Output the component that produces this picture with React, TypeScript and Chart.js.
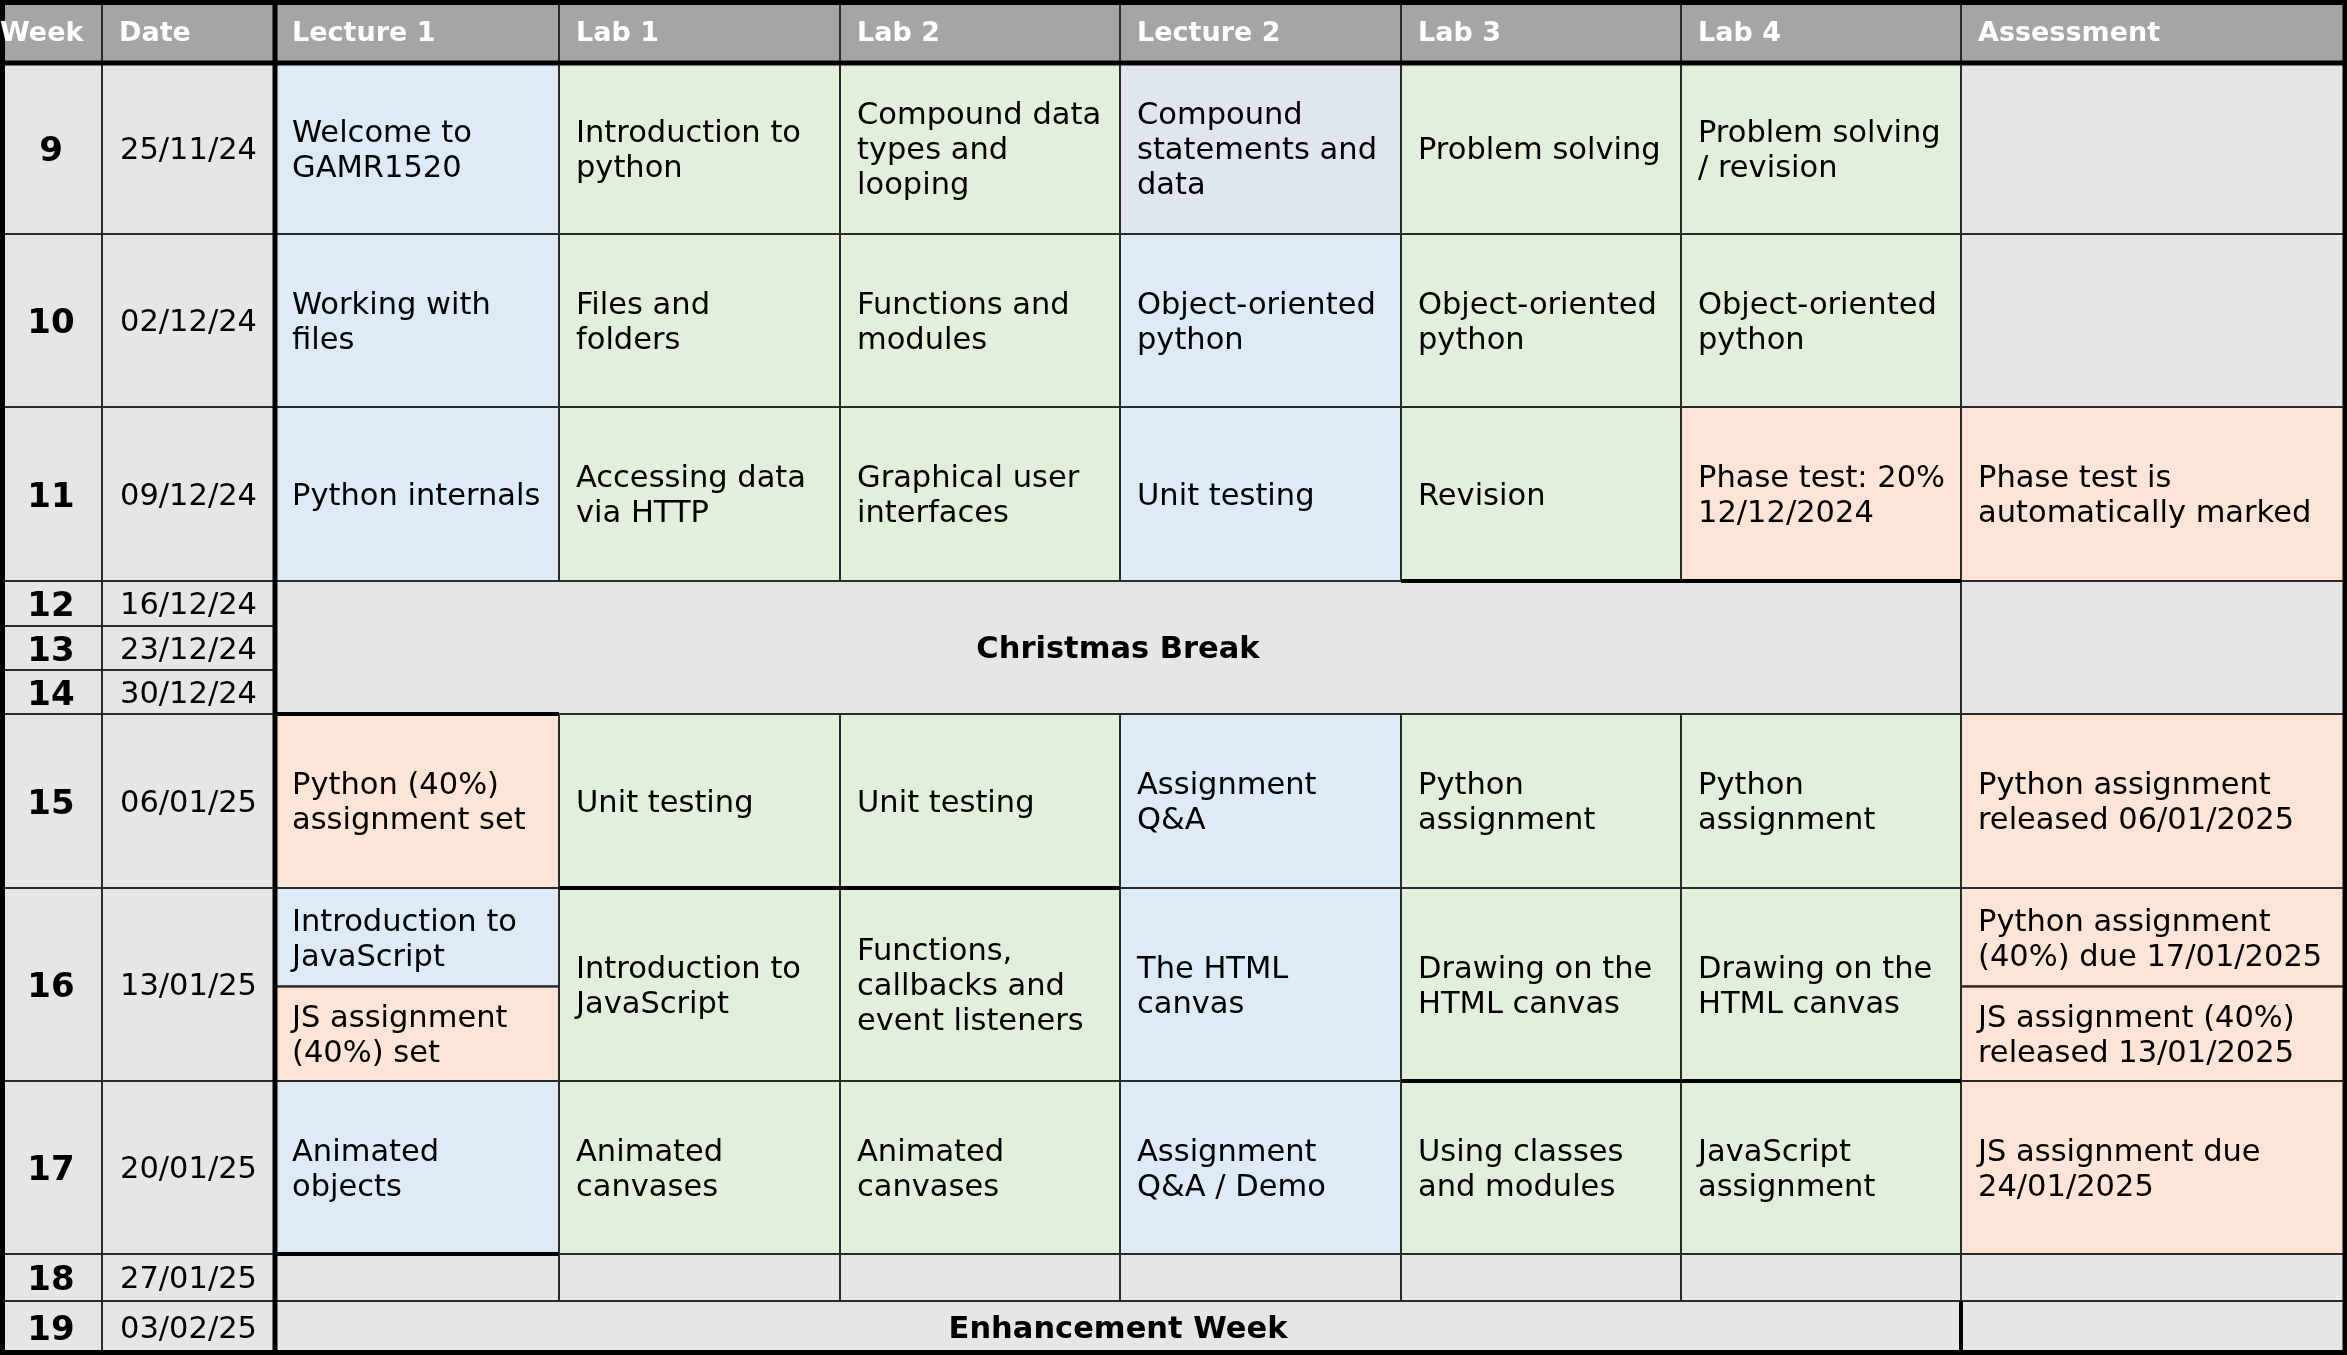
import React, { useEffect, useRef } from "react";
import { Chart, registerables } from "chart.js";

Chart.register(...registerables);

// ---------------- DATA ----------------
const HEADERS = ["Week", "Date", "Lecture 1", "Lab 1", "Lab 2", "Lecture 2", "Lab 3", "Lab 4", "Assessment"];
const WEEKS = ["9", "10", "11", "12", "13", "14", "15", "16", "17", "18", "19"];
const DATES = ["25/11/24", "02/12/24", "09/12/24", "16/12/24", "23/12/24", "30/12/24", "06/01/25", "13/01/25", "20/01/25", "27/01/25", "03/02/25"];

// rows (indices into WEEKS) that hold teaching sessions
const TEACHING_ROWS = [0, 1, 2, 6, 7, 8];

type Entry = string | string[];
const LECTURE_1: Entry[] = ["Welcome to\nGAMR1520", "Working with\nfiles", "Python internals", "Python (40%)\nassignment set", ["Introduction to\nJavaScript", "JS assignment\n(40%) set"], "Animated\nobjects"];
const LECTURE_1_TYPE: Entry[] = ["lecture", "lecture", "lecture", "assessment", ["lecture", "assessment"], "lecture"];
const LAB_1: Entry[] = ["Introduction to\npython", "Files and\nfolders", "Accessing data\nvia HTTP", "Unit testing", "Introduction to\nJavaScript", "Animated\ncanvases"];
const LAB_1_TYPE: Entry[] = ["lab", "lab", "lab", "lab", "lab", "lab"];
const LAB_2: Entry[] = ["Compound data\ntypes and\nlooping", "Functions and\nmodules", "Graphical user\ninterfaces", "Unit testing", "Functions,\ncallbacks and\nevent listeners", "Animated\ncanvases"];
const LAB_2_TYPE: Entry[] = ["lab", "lab", "lab", "lab", "lab", "lab"];
const LECTURE_2: Entry[] = ["Compound\nstatements and\ndata", "Object-oriented\npython", "Unit testing", "Assignment\nQ&A", "The HTML\ncanvas", "Assignment\nQ&A / Demo"];
const LECTURE_2_TYPE: Entry[] = ["lectureAlt", "lecture", "lecture", "lecture", "lecture", "lecture"];
const LAB_3: Entry[] = ["Problem solving", "Object-oriented\npython", "Revision", "Python\nassignment", "Drawing on the\nHTML canvas", "Using classes\nand modules"];
const LAB_3_TYPE: Entry[] = ["lab", "lab", "lab", "lab", "lab", "lab"];
const LAB_4: Entry[] = ["Problem solving\n/ revision", "Object-oriented\npython", "Phase test: 20%\n12/12/2024", "Python\nassignment", "Drawing on the\nHTML canvas", "JavaScript\nassignment"];
const LAB_4_TYPE: Entry[] = ["lab", "lab", "assessment", "lab", "lab", "lab"];
const ASSESSMENT: Entry[] = ["", "", "Phase test is\nautomatically marked", "Python assignment\nreleased 06/01/2025", ["Python assignment\n(40%) due 17/01/2025", "JS assignment (40%)\nreleased 13/01/2025"], "JS assignment due\n24/01/2025"];
const ASSESSMENT_TYPE: Entry[] = ["empty", "empty", "assessment", "assessment", ["assessment", "assessment"], "assessment"];

const SESSION_COLUMNS = [LECTURE_1, LAB_1, LAB_2, LECTURE_2, LAB_3, LAB_4, ASSESSMENT];
const SESSION_TYPES = [LECTURE_1_TYPE, LAB_1_TYPE, LAB_2_TYPE, LECTURE_2_TYPE, LAB_3_TYPE, LAB_4_TYPE, ASSESSMENT_TYPE];

// non-teaching blocks: label, first row, last row
const BREAK_LABELS = ["Christmas Break", "Enhancement Week"];
const BREAK_FIRST = [3, 10];
const BREAK_LAST = [5, 10];
// empty week (all cells blank)
const EMPTY_ROWS = [9];

// ---------------- LAYOUT ----------------
const W = 2347;
const H = 1355;
const COL_EDGES = [0, 102, 275, 559, 840, 1120, 1401, 1681, 1961, 2345];
const ROW_EDGES = [0, 63, 234, 407, 581, 626, 670, 714, 888, 1081, 1254, 1301, 1353];
const SPLIT_FRACTION = 0.51;

const FILL: Record<string, string> = {
  lecture: "#ddebf7",
  lectureAlt: "#dfe6f0",
  lab: "#e2efda",
  assessment: "#fce4d6",
  empty: "#e6e6e6",
  header: "#a5a5a5",
};
const FONT = '"DejaVu Sans", sans-serif';
const THIN = "#2a2a2a";

// thick segments: horizontal [edgeRow, col0, col1, width], vertical [edgeCol, row0, row1, width]
const THICK_H: number[][] = [
  [0, 0, 9, 5], [1, 0, 9, 5], [12, 0, 9, 5],
  [4, 6, 8, 4], [7, 2, 3, 4], [8, 3, 5, 4], [9, 6, 8, 4], [10, 2, 3, 4],
];
const THICK_V: number[][] = [
  [0, 0, 12, 5], [9, 0, 12, 5], [2, 0, 12, 5], [8, 11, 12, 4],
];

type Cell = { c0: number; c1: number; y0: number; y1: number; text: string; kind: string; bold?: boolean; center?: boolean; big?: boolean };

function buildCells(): Cell[] {
  const cells: Cell[] = [];
  WEEKS.forEach((w, i) => {
    cells.push({ c0: 0, c1: 1, y0: ROW_EDGES[i + 1], y1: ROW_EDGES[i + 2], text: w, kind: "empty", bold: true, center: true, big: true });
    cells.push({ c0: 1, c1: 2, y0: ROW_EDGES[i + 1], y1: ROW_EDGES[i + 2], text: DATES[i], kind: "empty", center: true });
  });
  SESSION_COLUMNS.forEach((col, ci) => {
    col.forEach((entry, k) => {
      const r = TEACHING_ROWS[k];
      const y0 = ROW_EDGES[r + 1];
      const y1 = ROW_EDGES[r + 2];
      const kind = SESSION_TYPES[ci][k];
      if (Array.isArray(entry)) {
        const ym = y0 + (y1 - y0) * SPLIT_FRACTION;
        const kinds = kind as string[];
        cells.push({ c0: ci + 2, c1: ci + 3, y0, y1: ym, text: entry[0], kind: kinds[0] });
        cells.push({ c0: ci + 2, c1: ci + 3, y0: ym, y1, text: entry[1], kind: kinds[1] });
      } else {
        cells.push({ c0: ci + 2, c1: ci + 3, y0, y1, text: entry, kind: kind as string });
      }
    });
  });
  BREAK_LABELS.forEach((label, b) => {
    const y0 = ROW_EDGES[BREAK_FIRST[b] + 1];
    const y1 = ROW_EDGES[BREAK_LAST[b] + 2];
    cells.push({ c0: 2, c1: 8, y0, y1, text: label, kind: "empty", bold: true, center: true });
    cells.push({ c0: 8, c1: 9, y0, y1, text: "", kind: "empty" });
  });
  EMPTY_ROWS.forEach((r) => {
    for (let c = 2; c < 9; c++) {
      cells.push({ c0: c, c1: c + 1, y0: ROW_EDGES[r + 1], y1: ROW_EDGES[r + 2], text: "", kind: "empty" });
    }
  });
  return cells;
}

const tablePlugin = {
  id: "timetable",
  afterDraw(chart: any) {
    const ctx: CanvasRenderingContext2D = chart.ctx;
    const xs = chart.scales.x;
    const ys = chart.scales.y;
    const px = (v: number) => xs.getPixelForValue(v);
    const py = (v: number) => ys.getPixelForValue(v);
    const cells = buildCells();

    ctx.save();
    ctx.fillStyle = FILL.header;
    ctx.fillRect(px(COL_EDGES[0]), py(ROW_EDGES[0]), px(COL_EDGES[9]) - px(COL_EDGES[0]), py(ROW_EDGES[1]) - py(ROW_EDGES[0]));
    cells.forEach((c) => {
      const x0 = px(COL_EDGES[c.c0]);
      const x1 = px(COL_EDGES[c.c1]);
      const y0 = py(c.y0);
      const y1 = py(c.y1);
      ctx.fillStyle = FILL[c.kind];
      ctx.fillRect(x0, y0, x1 - x0, y1 - y0);
    });
    ctx.strokeStyle = THIN;
    ctx.lineWidth = 2;
    for (let c = 1; c < 9; c++) {
      ctx.beginPath();
      ctx.moveTo(px(COL_EDGES[c]), py(ROW_EDGES[0]));
      ctx.lineTo(px(COL_EDGES[c]), py(ROW_EDGES[1]));
      ctx.stroke();
    }
    cells.forEach((c) => {
      const x0 = px(COL_EDGES[c.c0]);
      const x1 = px(COL_EDGES[c.c1]);
      const y0 = py(c.y0);
      const y1 = py(c.y1);
      ctx.strokeRect(x0, y0, x1 - x0, y1 - y0);
    });
    ctx.strokeStyle = "#000";
    THICK_H.forEach(([r, c0, c1, w]) => {
      ctx.lineWidth = w;
      let y = py(ROW_EDGES[r]);
      if (r === 0) y += w / 2;
      if (r === ROW_EDGES.length - 1) y = Math.min(y, H - w / 2);
      ctx.beginPath();
      ctx.moveTo(px(COL_EDGES[c0]), y);
      ctx.lineTo(px(COL_EDGES[c1]) + (c1 === 9 ? 2 : 0), y);
      ctx.stroke();
    });
    THICK_V.forEach(([c, r0, r1, w]) => {
      ctx.lineWidth = w;
      let x = px(COL_EDGES[c]);
      if (c === 0) x += w / 2;
      ctx.beginPath();
      ctx.moveTo(x, py(ROW_EDGES[r0]));
      ctx.lineTo(x, py(ROW_EDGES[r1]) + 2);
      ctx.stroke();
    });

    ctx.fillStyle = "#ffffff";
    ctx.font = `bold 27px ${FONT}`;
    ctx.textBaseline = "middle";
    ctx.textAlign = "left";
    const hy = (py(ROW_EDGES[0]) + py(ROW_EDGES[1])) / 2 + 2.5;
    HEADERS.forEach((h, i) => {
      const x = i === 0 ? px(COL_EDGES[0]) : px(COL_EDGES[i]) + 17;
      ctx.fillText(h, x, hy);
    });

    ctx.fillStyle = "#000";
    const LH = 35;
    cells.forEach((c) => {
      if (!c.text) return;
      const x0 = px(COL_EDGES[c.c0]);
      const x1 = px(COL_EDGES[c.c1]);
      const yc = (py(c.y0) + py(c.y1)) / 2 + (c.big ? 4 : 3);
      ctx.font = `${c.bold ? "bold " : ""}${c.big ? 34 : 30.5}px ${FONT}`;
      const lines = c.text.split("\n");
      ctx.textAlign = c.center ? "center" : "left";
      const tx = c.center ? (x0 + x1) / 2 : x0 + 17;
      lines.forEach((ln, j) => {
        ctx.fillText(ln, tx, yc + (j - (lines.length - 1) / 2) * LH);
      });
    });
    ctx.restore();
  },
};

export default function App() {
  const ref = useRef<HTMLCanvasElement | null>(null);
  useEffect(() => {
    document.body.style.margin = "0";
    const canvas = ref.current!;
    const chart = new Chart(canvas, {
      type: "scatter",
      data: { datasets: [] },
      options: {
        animation: false,
        responsive: false,
        maintainAspectRatio: false,
        devicePixelRatio: 1,
        layout: { padding: 0 },
        events: [],
        plugins: { legend: { display: false }, tooltip: { enabled: false } },
        scales: {
          x: { type: "linear", min: 0, max: W, display: false },
          y: { type: "linear", min: 0, max: H, reverse: true, display: false },
        },
      },
      plugins: [tablePlugin],
    } as any);
    return () => chart.destroy();
  }, []);
  return (
    <div style={{ width: W, height: H, background: "#fff" }}>
      <canvas ref={ref} width={W} height={H} style={{ display: "block", width: W, height: H }} />
    </div>
  );
}
